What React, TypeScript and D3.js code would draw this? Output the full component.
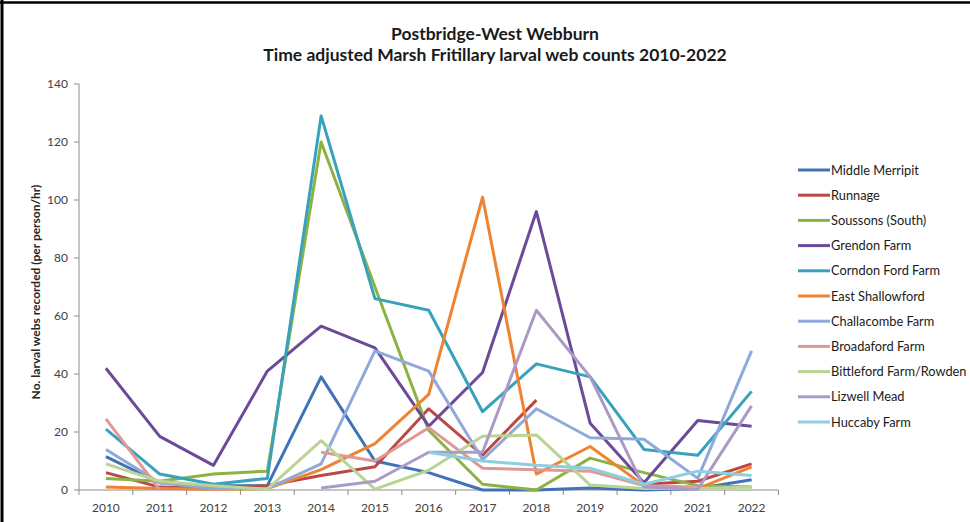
import React from "react";
import * as d3 from "d3";

const years = ["2010","2011","2012","2013","2014","2015","2016","2017","2018","2019","2020","2021","2022"];
const yTicks = [0, 20, 40, 60, 80, 100, 120, 140];

const middleMerripit = [11.5, 2.5, 1.5, 1.5, 39, 10, 6, 0, 0, 0.7, 0, 0.5, 3.5];
const runnage = [6, 1, 0.5, 1.5, 5, 8, 28, 12, 31, null, 2, 3, 9];
const soussons = [4, 3, 5.5, 6.5, 120, 70, 20.5, 2, 0, 11, 6, 1.5, 1];
const grendon = [42, 18.5, 8.5, 41, 56.5, 49, 22, 40.5, 96, 23, 2.5, 24, 22];
const corndon = [21, 5.5, 2, 4, 129, 66, 62, 27, 43.5, 39, 14, 12, 34];
const eastShallowford = [1, 0.5, 0.3, 0.5, 7, 16, 33, 101, 5.5, 15, 1.5, 0.5, 8];
const challacombe = [14, 2.5, 0.5, 0.5, 9, 48, 41, 10.5, 28, 18, 17.5, 4, 48];
const broadaford = [24.5, 0, null, null, 13, 10, 21.5, 7.5, 7, 6.5, 1.5, 1, null];
const bittleford = [9, 3, 1.5, 0.3, 17, 0.3, 6.8, 18.5, 19, 1.7, 0.5, 0.5, 1];
const lizwell = [null, null, null, null, 0.7, 3, 13, 13, 62, 39, 1, 0.3, 29];
const huccaby = [null, null, null, null, null, null, 13, 10, 8.5, 7.5, 2, 6.5, 5];

const seriesNames = ["Middle Merripit","Runnage","Soussons (South)","Grendon Farm","Corndon Ford Farm","East Shallowford","Challacombe Farm","Broadaford Farm","Bittleford Farm/Rowden","Lizwell Mead","Huccaby Farm"];
const seriesValues = [middleMerripit, runnage, soussons, grendon, corndon, eastShallowford, challacombe, broadaford, bittleford, lizwell, huccaby];
const colors = ["#3F72B6","#BC4845","#8DB244","#6C4A9A","#38A2BD","#EE8431","#8FAADA","#E09896","#BAD493","#AC9AC6","#8DCEE0"];

export default function App() {
  const W = 970, H = 522;
  const x = d3.scaleBand<string>().domain(years).range([79, 778.5]);
  const bw = x.bandwidth();
  const cx = (yr: string) => (x(yr) as number) + bw / 2;
  const y = d3.scaleLinear().domain([0, 140]).range([490, 84]);
  const line = d3.line<number | null>()
    .defined((d) => d != null)
    .x((_, i) => cx(years[i]))
    .y((d) => y(d as number));

  const font = "Lato, 'Open Sans', sans-serif";
  const legendX = 798, legendY0 = 170, legendStep = 25.2;

  return (
    <svg width={W} height={H} style={{ position: "absolute", left: 0, top: 0, background: "#fff" }} fontFamily={font}>
      <rect x={0} y={0} width={W} height={H} fill="#fff" />
      {/* frame */}
      <line x1={2} y1={0} x2={2} y2={H} stroke="#000" strokeWidth={3} />
      <line x1={0} y1={2.5} x2={W} y2={2.5} stroke="#000" strokeWidth={2.5} />

      {/* title */}
      <text x={495} y={40} textAnchor="middle" fontSize={17.5} fontWeight="bold" fill="#1a1a1a">Postbridge-West Webburn</text>
      <text x={495} y={61} textAnchor="middle" fontSize={17.5} fontWeight="bold" fill="#1a1a1a">Time adjusted Marsh Fritillary larval web counts 2010-2022</text>

      {/* y axis */}
      <line x1={79} y1={y(140)} x2={79} y2={y(0)} stroke="#8c8c8c" strokeWidth={1} />
      {yTicks.map((t) => (
        <g key={t}>
          <line x1={74} x2={79} y1={y(t)} y2={y(t)} stroke="#8c8c8c" />
          <text x={68} y={y(t) + 4} textAnchor="end" fontSize={12} fill="#404040">{t}</text>
        </g>
      ))}
      <text transform={`translate(40,${292}) rotate(-90)`} textAnchor="middle" fontSize={12} fontWeight="bold" fill="#262626">No. larval webs recorded (per person/hr)</text>

      {/* x axis */}
      <line x1={79} x2={778.5} y1={490} y2={490} stroke="#8c8c8c" />
      {years.map((yr) => (
        <line key={"t" + yr} x1={x(yr) as number} x2={x(yr) as number} y1={490} y2={495} stroke="#8c8c8c" />
      ))}
      <line x1={778.5} x2={778.5} y1={490} y2={495} stroke="#8c8c8c" />
      {years.map((yr) => (
        <text key={yr} x={cx(yr)} y={512} textAnchor="middle" fontSize={12} fill="#404040">{yr}</text>
      ))}

      {/* series */}
      {seriesValues.map((vals, i) => (
        <path key={seriesNames[i]} d={line(vals) || ""} fill="none" stroke={colors[i]} strokeWidth={3} strokeLinejoin="round" />
      ))}

      {/* legend */}
      {seriesNames.map((n, i) => (
        <g key={"l" + n}>
          <line x1={legendX} x2={legendX + 32} y1={legendY0 + i * legendStep} y2={legendY0 + i * legendStep} stroke={colors[i]} strokeWidth={3} />
          <text x={legendX + 33} y={legendY0 + i * legendStep + 4.5} fontSize={12.8} fill="#1a1a1a">{n}</text>
        </g>
      ))}
    </svg>
  );
}
